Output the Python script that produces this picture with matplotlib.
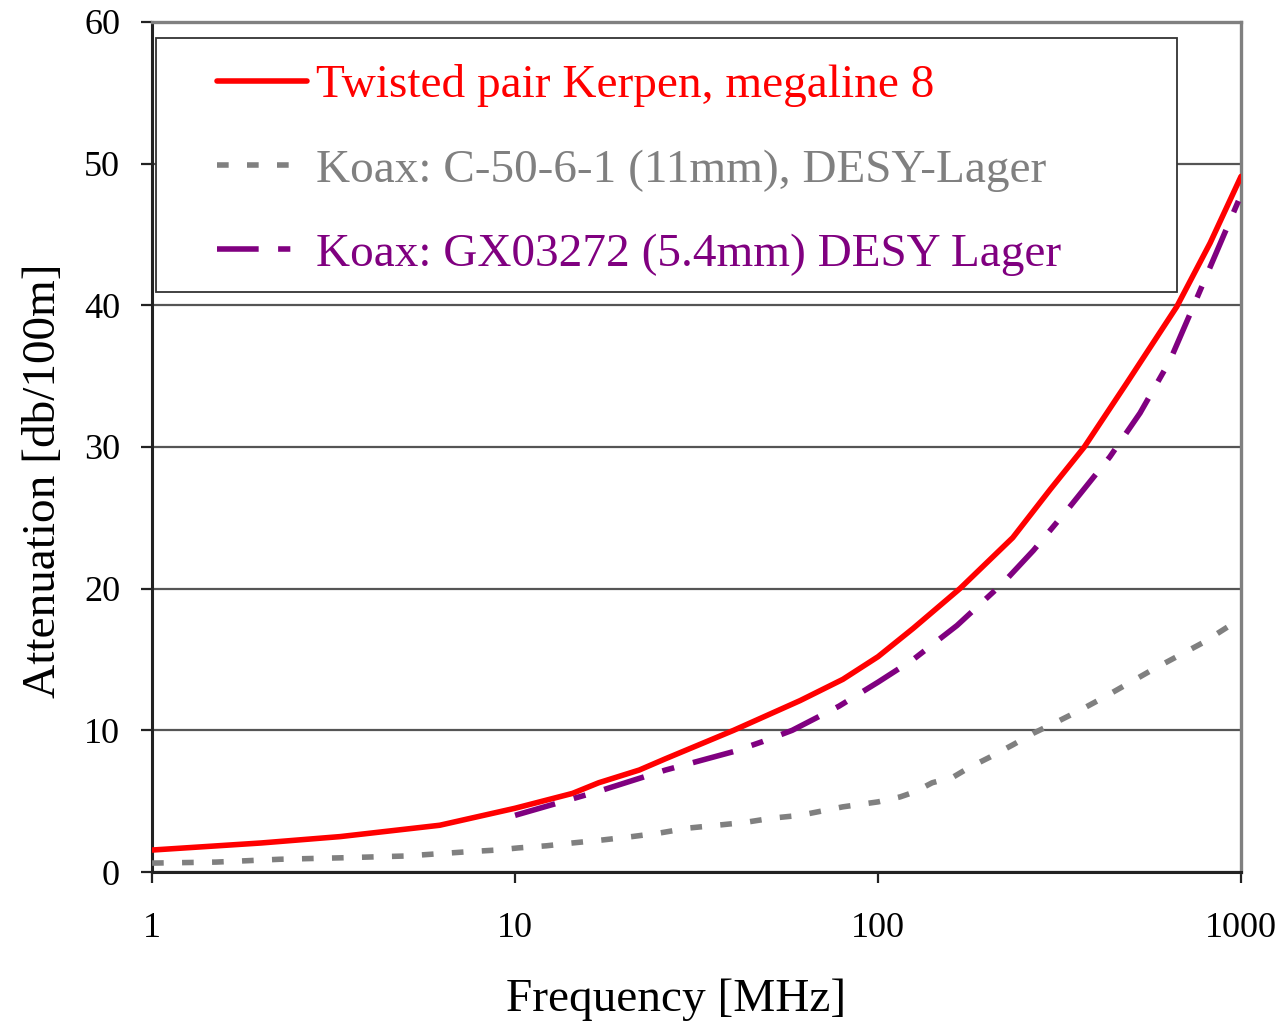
import matplotlib.pyplot as plt
from matplotlib.patches import Rectangle
import numpy as np

# frequency in MHz, attenuation in dB/100m
freq_tp = [1, 2, 3.3, 6.2, 10, 14.4, 17, 22, 26, 40, 61, 80, 100, 125, 168, 235, 298, 370, 484, 665, 822, 1000]
twisted = [1.55, 2.05, 2.5, 3.3, 4.5, 5.55, 6.3, 7.2, 8.0, 10.0, 12.1, 13.6, 15.2, 17.2, 20.0, 23.6, 27.0, 30.0, 34.5, 39.9, 44.4, 49.1]

freq_c50 = [1, 1.5, 2.25, 3.3, 5, 6, 7.4, 8.9, 10.2, 12.2, 14.4, 17.4, 21, 25, 30, 36, 43, 51, 61, 80, 100,
            115, 126, 141, 161, 179, 203, 236, 268, 311, 359, 417, 572, 787, 1000]
koax_c50 = [0.63, 0.7, 0.9, 1.0, 1.13, 1.27, 1.43, 1.55, 1.7, 1.85, 2.05, 2.26, 2.5, 2.75, 3.1, 3.3, 3.5, 3.8, 4.0, 4.6, 4.95,
            5.3, 5.65, 6.3, 6.7, 7.4, 8.1, 9.0, 9.8, 10.6, 11.4, 12.3, 14.3, 16.2, 17.9]

freq_gx = [10, 17, 26, 40, 48, 58, 78, 100, 125, 165, 221, 268, 338, 435, 527, 637, 724, 1000]
koax_gx = [4.0, 5.7, 7.2, 8.5, 9.2, 10.0, 11.7, 13.4, 15.0, 17.4, 20.4, 22.7, 25.8, 29.3, 32.4, 36.1, 39.4, 47.8]

labels = ['Twisted pair Kerpen, megaline 8',
          'Koax: C-50-6-1 (11mm), DESY-Lager',
          'Koax: GX03272 (5.4mm) DESY Lager']
colors = ['#ff0000', '#808080', '#800080']

plt.rcParams['font.family'] = ['Liberation Serif', 'DejaVu Serif']

fig = plt.figure(figsize=(12.81, 10.23), dpi=100)
ax = fig.add_axes([0.1187, 0.1476, 0.8501, 0.8309])

lw = 4.0
ax.plot(freq_tp, twisted, color=colors[0], lw=lw, label=labels[0],
        solid_capstyle='round', solid_joinstyle='round', zorder=3)
ax.plot(freq_c50, koax_c50, color=colors[1], lw=lw, linestyle=(0, (2.1, 3.3)), label=labels[1],
        dash_capstyle='butt', zorder=3)
ax.plot(freq_gx, koax_gx, color=colors[2], lw=lw, linestyle=(0, (7.5, 3.5, 2.2, 3.5)), label=labels[2],
        dash_capstyle='butt', zorder=3)

ax.set_xscale('log')
ax.set_xlim(1, 1000)
ax.set_ylim(0, 60)
ax.set_yticks(np.arange(0, 61, 10))
ax.set_xticks([1, 10, 100, 1000])
ax.set_xticklabels(['1', '10', '100', '1000'])
ax.xaxis.set_minor_locator(plt.NullLocator())
ax.yaxis.grid(True, color='#555555', lw=1.6)
ax.set_axisbelow(True)

for s in ['left', 'bottom']:
    ax.spines[s].set_color('#222222')
    ax.spines[s].set_linewidth(2.2)
for s in ['top', 'right']:
    ax.spines[s].set_color('#808080')
    ax.spines[s].set_linewidth(2.4)

ax.tick_params(axis='both', which='major', length=8, width=1.6, color='#222222',
               labelsize=26, direction='out')
ax.tick_params(axis='x', pad=21)
ax.tick_params(axis='y', pad=15)

ax.set_xlabel('Frequency [MHz]', fontsize=34, labelpad=24)
ax.xaxis.label.set_x(0.4816)
ax.set_ylabel('Attenuation [db/100m]', fontsize=34)
ax.yaxis.set_label_coords(-0.080, 0.46)

# legend frame (wider than its entries, as in the original)
ax.add_patch(Rectangle((0.0037, 0.6824), 0.9375, 0.2988, transform=ax.transAxes,
                       facecolor='white', edgecolor='#333333', lw=1.3, zorder=2.5))

leg = ax.legend(loc='center left', bbox_to_anchor=(0.0597, 0.8259), fontsize=34,
                frameon=False, handlelength=1.9, handletextpad=0.2,
                labelspacing=0.87, borderpad=0, borderaxespad=0)
leg.set_zorder(5)
for txt, c in zip(leg.get_texts(), colors):
    txt.set_color(c)

fig.savefig('out.png', dpi=100)
